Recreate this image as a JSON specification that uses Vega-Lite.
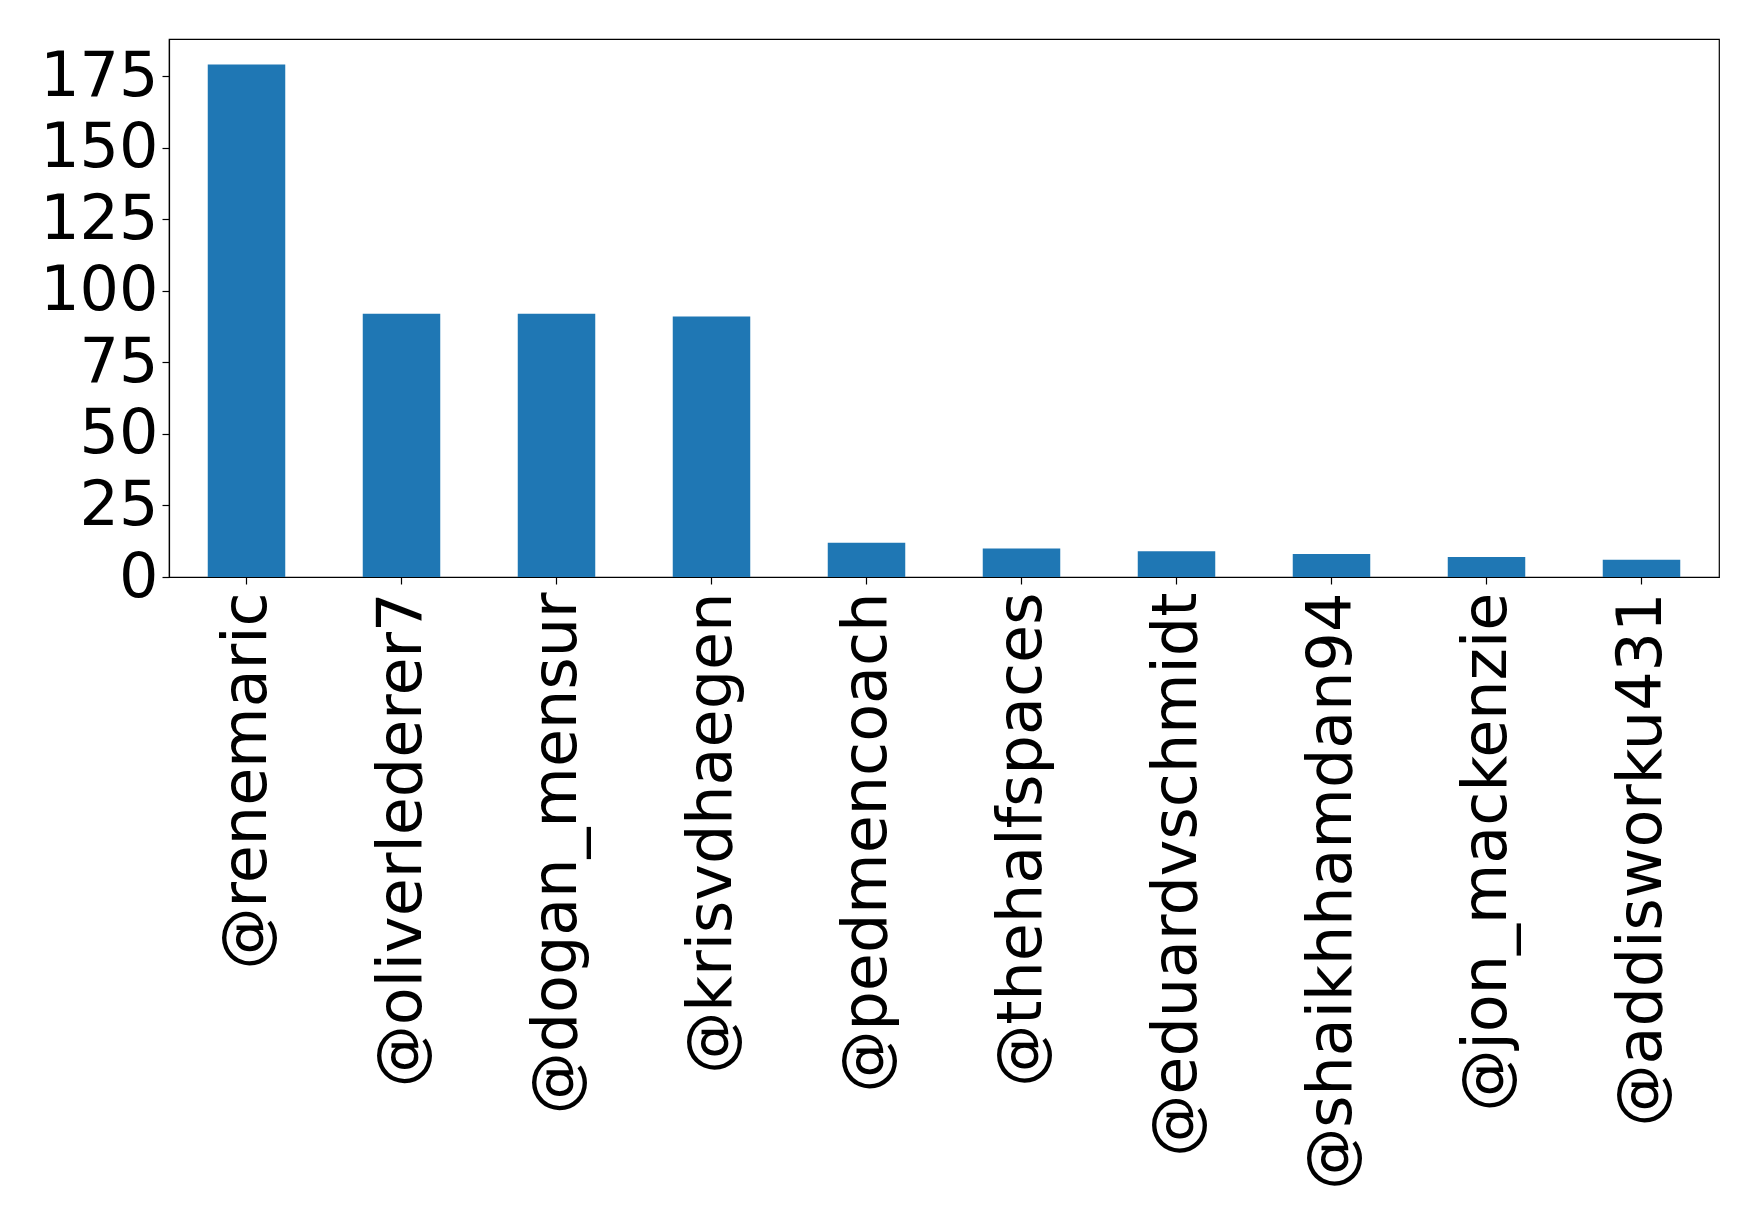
{
  "$schema": "https://vega.github.io/schema/vega-lite/v6.json",
  "autosize": {"type": "none"},
  "padding": {"left": 169, "top": 39, "right": 39, "bottom": 652},
  "width": 1550,
  "height": 538,
  "background": "white",
  "config": {
    "font": "DejaVu Sans",
    "view": {"stroke": "black", "strokeWidth": 1.2},
    "axis": {
      "labelFont": "DejaVu Sans",
      "labelFontSize": 62,
      "labelColor": "black",
      "tickColor": "black",
      "tickSize": 7,
      "tickWidth": 1.2,
      "domainColor": "black",
      "domainWidth": 1.2,
      "grid": false,
      "title": null
    }
  },
  "data": {
    "values": [
      {"user": "@renemaric", "count": 179},
      {"user": "@oliverlederer7", "count": 92},
      {"user": "@dogan_mensur", "count": 92},
      {"user": "@krisvdhaegen", "count": 91},
      {"user": "@pedmencoach", "count": 12},
      {"user": "@thehalfspaces", "count": 10},
      {"user": "@eduardvschmidt", "count": 9},
      {"user": "@shaikhhamdan94", "count": 8},
      {"user": "@jon_mackenzie", "count": 7},
      {"user": "@addisworku431", "count": 6}
    ]
  },
  "mark": {"type": "bar", "color": "#1f77b4"},
  "encoding": {
    "x": {
      "field": "user",
      "type": "nominal",
      "sort": null,
      "scale": {"paddingInner": 0.5, "paddingOuter": 0.25},
      "axis": {"labelAngle": -90, "labelPadding": 8, "labelLimit": 0}
    },
    "y": {
      "field": "count",
      "type": "quantitative",
      "scale": {"domain": [0, 187.95], "nice": false, "zero": true},
      "axis": {"values": [0, 25, 50, 75, 100, 125, 150, 175], "labelPadding": 4}
    }
  }
}
